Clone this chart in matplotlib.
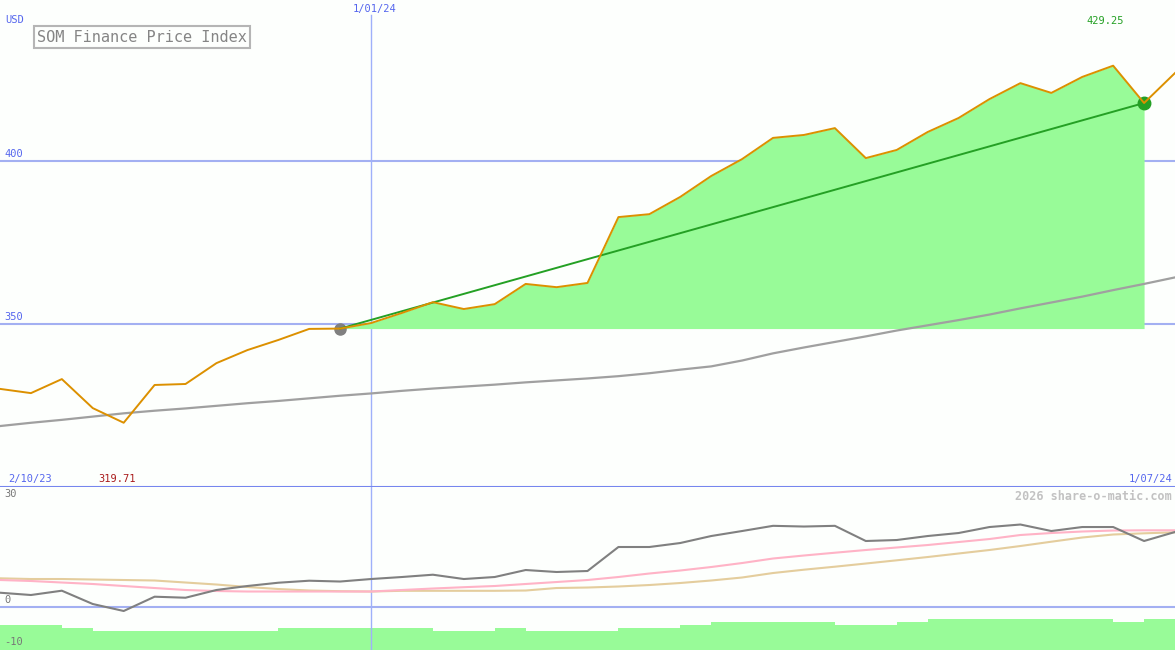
import matplotlib
matplotlib.use("Agg")
import matplotlib.pyplot as plt
import matplotlib.transforms as mtransforms

plt.rcParams['font.family'] = ['DejaVu Sans Mono']

# weekly points, 2/10/23 .. 1/07/24
price = [330.1, 328.8, 333.1, 324.2, 319.71, 331.3, 331.6, 338.0, 342.0, 345.1,
         348.5, 348.6, 350.3, 353.4, 356.7, 354.6, 356.1, 362.3, 361.3, 362.6,
         382.8, 383.7, 389.0, 395.4, 400.6, 407.1, 408.0, 410.1, 400.9, 403.4,
         408.9, 413.2, 419.0, 423.9, 420.9, 425.8, 429.25, 417.8, 427.0]
avg_long = [318.7, 319.7, 320.6, 321.6, 322.6, 323.4, 324.1, 324.9, 325.7, 326.4,
            327.2, 328.0, 328.7, 329.5, 330.2, 330.8, 331.4, 332.1, 332.7, 333.3,
            334.0, 334.9, 336.0, 337.0, 338.8, 341.0, 342.8, 344.5, 346.2, 348.0,
            349.6, 351.2, 352.9, 354.8, 356.6, 358.4, 360.4, 362.3, 364.3]
osc = [4.05, 3.4, 4.62, 0.85, -1.13, 2.92, 2.63, 4.82, 5.95, 6.88,
       7.45, 7.22, 7.93, 8.5, 9.15, 7.93, 8.5, 10.48, 9.92, 10.2,
       17.0, 17.0, 18.13, 20.11, 21.53, 23.0, 22.8, 23.0, 18.7, 18.98,
       20.11, 20.96, 22.66, 23.37, 21.53, 22.66, 22.66, 18.7, 21.25]
osc_pink = [7.65, 7.37, 6.94, 6.52, 5.95, 5.38, 4.82, 4.53, 4.39, 4.39,
            4.39, 4.39, 4.39, 4.82, 5.24, 5.61, 5.95, 6.52, 7.08, 7.65,
            8.5, 9.49, 10.34, 11.33, 12.46, 13.74, 14.59, 15.38, 16.15, 16.86,
            17.56, 18.41, 19.26, 20.4, 20.96, 21.39, 21.67, 21.73, 21.73]
osc_tan = [8.13, 7.93, 7.93, 7.79, 7.65, 7.51, 6.94, 6.37, 5.67, 5.1,
           4.67, 4.48, 4.39, 4.59, 4.59, 4.59, 4.59, 4.67, 5.38, 5.52,
           5.81, 6.23, 6.8, 7.51, 8.36, 9.63, 10.57, 11.42, 12.32, 13.23,
           14.16, 15.16, 16.15, 17.28, 18.5, 19.69, 20.54, 20.88, 21.16]
bar_top = [-5.1, -5.1, -5.95, -6.8, -6.8, -6.8, -6.8, -6.8, -6.8, -5.95,
           -5.95, -5.95, -5.95, -5.95, -6.8, -6.8, -5.95, -6.8, -6.8, -6.8,
           -5.95, -5.95, -5.1, -4.25, -4.25, -4.25, -4.25, -5.1, -5.1, -4.25,
           -3.4, -3.4, -3.4, -3.4, -3.4, -3.4, -4.25, -3.4]

start_label, mid_label, end_label = '2/10/23', '1/01/24', '1/07/24'
mid_idx = 12
trend_from, trend_to = 11, 37
price_ticks = [400, 350]
osc_ticks = [30, 0, -10]
title = 'SOM Finance Price Index'

bg = '#fdfffd'
blue_txt = '#5566ee'
grid_c = '#a3b0f2'
sep_c = '#7686ee'
green = '#98fb98'
dkgreen = '#24a024'

x = list(range(len(price)))
W, H = 1175, 650

fig = plt.figure(figsize=(W / 100, H / 100), dpi=100)
fig.patch.set_facecolor(bg)
ax = fig.add_axes([0, 1 - 487 / H, 1, 487 / H])
ax2 = fig.add_axes([0, 0, 1, 163 / H])
for a in (ax, ax2):
    a.set_facecolor(bg)
    a.set_xticks([])
    a.set_yticks([])
    for s in a.spines.values():
        s.set_visible(False)
    a.set_xlim(0, len(price) - 1)

ax.set_ylim(300, 449.4)
ax2.set_ylim(-12.18, 34.0)
ax.spines['bottom'].set_visible(True)
ax.spines['bottom'].set_color(sep_c)
ax.spines['bottom'].set_linewidth(1.5)

# --- price panel
for v in price_ticks:
    ax.axhline(v, color=grid_c, lw=1.5, zorder=0.5)
    ax.text(0.004, v + 0.6, str(v), transform=mtransforms.blended_transform_factory(ax.transAxes, ax.transData),
            color=blue_txt, fontsize=7.5, va='bottom', ha='left')
ax.axvline(mid_idx, ymax=1 - 15 / 487, color='#9fb0fa', lw=1.0, zorder=0.5)

base = price[trend_from]
seg = slice(trend_from, trend_to + 1)
ax.fill_between(x[seg], price[seg], base, color=green, lw=0, zorder=1)
ax.plot(x, avg_long, color='#a0a0a0', lw=1.6, zorder=2)
ax.plot([trend_from], [price[trend_from]], 'o', color='#808080', ms=8, zorder=3)
ax.plot([trend_to], [price[trend_to]], 'o', color=dkgreen, ms=9, zorder=3)
ax.plot([trend_from, trend_to], [price[trend_from], price[trend_to]], color=dkgreen, lw=1.4, zorder=4)
ax.plot(x, price, color='#dc9000', lw=1.4, zorder=5)

fig.text(5 / W, 1 - 20 / H, 'USD', color=blue_txt, fontsize=7.5, va='center', ha='left')
tb = mtransforms.blended_transform_factory(ax.transData, fig.transFigure)
ax.text(mid_idx + 0.13, 1 - 9 / H, mid_label, transform=tb, color=blue_txt, fontsize=7.5, ha='center', va='center')
fig.text(37 / W, 1 - 37 / H, title, color='#858585', fontsize=11, va='center', ha='left',
         bbox=dict(boxstyle='square,pad=0.22', fc=bg, ec='#b5b5b5', lw=1.5))

imax = price.index(max(price))
imin = price.index(min(price))
ax.text(imax - 0.25, 1 - 21 / H, f'{max(price):.2f}', transform=tb, color=dkgreen, fontsize=7.5, ha='center', va='center')
ax.text(imin - 0.2, 1 - 479 / H, f'{min(price):.2f}', transform=tb, color='#aa1c1c', fontsize=7.5, ha='center', va='center')
fig.text(8 / W, 1 - 479 / H, start_label, color=blue_txt, fontsize=7.5, va='center', ha='left')
fig.text(1172 / W, 1 - 479 / H, end_label, color=blue_txt, fontsize=7.5, va='center', ha='right')

# --- oscillator panel
ymin = ax2.get_ylim()[0]
ax2.bar(x[:-1], [t - ymin for t in bar_top], width=1, align='edge', bottom=ymin, color=green, lw=0, zorder=1)
ax2.axhline(0, color=grid_c, lw=1.5, zorder=0.5)
ax2.axvline(mid_idx, color='#9fb0fa', lw=1.0, zorder=1.5)
ax2.plot(x, osc_tan, color='#e4cd9d', lw=1.5, zorder=2)
ax2.plot(x, osc_pink, color='#ffb3c6', lw=1.5, zorder=2.5)
ax2.plot(x, osc, color='#808080', lw=1.5, zorder=3)

lt = mtransforms.blended_transform_factory(ax2.transAxes, ax2.transData)
for v in osc_ticks:
    if v > ymin + 3:
        ax2.text(0.004, v + 0.6, str(v), transform=lt, color='#777777', fontsize=7.5, va='bottom', ha='left')
    else:
        ax2.text(0.004, v, str(v), transform=lt, color='#777777', fontsize=7.5, va='center', ha='left')
fig.text(1172 / W, 1 - 496 / H, '2026 share-o-matic.com', color='#c2c2c2', fontsize=8.5,
         fontweight='bold', va='center', ha='right')

fig.savefig('out.png', dpi=100, facecolor=bg)
